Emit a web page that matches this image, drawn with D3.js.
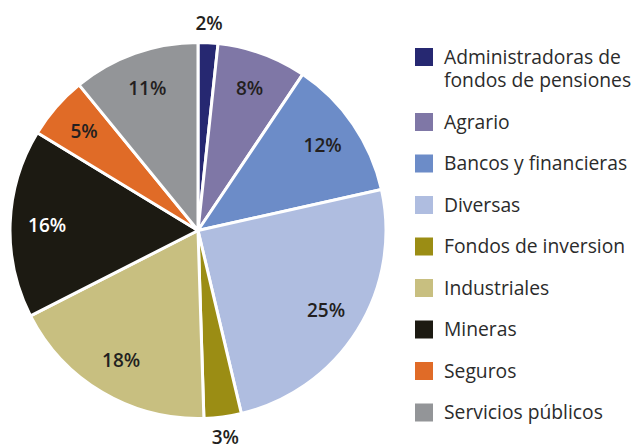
<!DOCTYPE html>
<html>
<head>
<meta charset="utf-8">
<script src="https://cdn.jsdelivr.net/npm/d3@7/dist/d3.min.js"></script>
<style>
  html, body { margin: 0; padding: 0; background: #fff; }
  svg { display: block; }
</style>
</head>
<body>
<svg id="chart" width="633" height="446"></svg>
<script>
const categories = [
  "Administradoras de\nfondos de pensiones",
  "Agrario",
  "Bancos y financieras",
  "Diversas",
  "Fondos de inversion",
  "Industriales",
  "Mineras",
  "Seguros",
  "Servicios públicos"
];
const values = [1.7, 7.7, 12.1, 24.8, 3.2, 18.0, 16.2, 5.4, 10.9];
const colors = ["#262871", "#7f77a6", "#6c8cc8", "#afbde0", "#9b8d14", "#c8bf80", "#1c1a12", "#e06b27", "#939598"];
const labelColors = ["#231f20", "#231f20", "#231f20", "#231f20", "#231f20", "#231f20", "#ffffff", "#231f20", "#231f20"];
const outsideLabels = [true, false, false, false, true, false, false, false, false];

const svg = d3.select("#chart");
const cx = 198, cy = 230.5, R = 188;
const font = "'Open Sans', 'Noto Sans', sans-serif";

const data = categories.map((c, i) => ({ name: c, value: values[i], color: colors[i], lc: labelColors[i], outside: outsideLabels[i] }));

const pie = d3.pie().value(d => d.value).sort(null);
const arcs = pie(data);
const arc = d3.arc().innerRadius(0).outerRadius(R);
const inLabelArc = d3.arc().innerRadius(151).outerRadius(151);
const outLabelArc = d3.arc().innerRadius(208).outerRadius(208);

const g = svg.append("g").attr("transform", `translate(${cx},${cy})`);
g.selectAll("path.slice").data(arcs).join("path")
  .attr("class", "slice")
  .attr("d", arc)
  .attr("fill", d => d.data.color)
  .attr("stroke", "#fff")
  .attr("stroke-width", 3)
  .attr("stroke-linejoin", "round");

g.selectAll("text.pct").data(arcs).join("text")
  .attr("class", "pct")
  .attr("transform", d => `translate(${(d.data.outside ? outLabelArc : inLabelArc).centroid(d)})`)
  .attr("text-anchor", "middle")
  .attr("dy", "0.36em")
  .attr("font-family", font)
  .attr("font-size", 19)
  .attr("font-weight", 600)
  .attr("fill", d => d.data.lc)
  .text(d => Math.round(d.data.value) + "%");

// Legend
const lg = svg.append("g");
const sqX = 415, sq = 18, textX = 444, pitch = 41.5, lineH = 23.5;
let y = 48;
data.forEach((d, i) => {
  const lines = d.name.split("\n");
  lg.append("rect").attr("x", sqX).attr("y", y).attr("width", sq).attr("height", sq).attr("fill", d.color);
  const t = lg.append("text")
    .attr("x", textX).attr("y", y + 15.5)
    .attr("font-family", font).attr("font-size", 19.3).attr("fill", "#2b2b2b");
  lines.forEach((ln, j) => {
    t.append("tspan").attr("x", textX).attr("dy", j === 0 ? 0 : lineH).text(ln);
  });
  y += pitch + (lines.length - 1) * lineH;
});
</script>
</body>
</html>
